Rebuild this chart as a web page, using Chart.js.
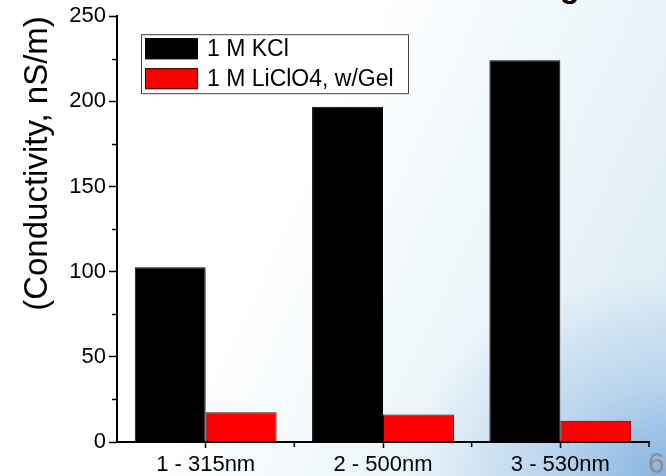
<!DOCTYPE html>
<html>
<head>
<meta charset="utf-8">
<script src="https://cdn.jsdelivr.net/npm/chart.js@4.4.0/dist/chart.umd.min.js"></script>
<style>
html,body{margin:0;padding:0;}
body{width:666px;height:476px;overflow:hidden;position:relative;
  background:
    radial-gradient(ellipse 260px 200px at 100% 100%, rgba(130,175,222,0.95) 0%, rgba(160,196,232,0.6) 45%, rgba(200,224,240,0) 100%),
    linear-gradient(115deg, #ffffff 0%, #ffffff 42%, #f1f8fb 60%, #e6f1f7 80%, #d6e8f2 100%);}
#wrap{position:absolute;left:0;top:0;width:666px;height:476px;}
#g{position:absolute;left:560px;top:-30px;font:bold 32px "Liberation Sans",Arial,sans-serif;line-height:32px;color:#000;}
#pg{position:absolute;left:648px;top:448px;font:30px "Liberation Sans",Arial,sans-serif;line-height:30px;color:#8e8e8e;}
</style>
</head>
<body>
<div id="g">g</div>
<div id="wrap"><canvas id="c" width="666" height="476"></canvas></div>
<div id="pg">6</div>
<script>
const categories = ['1 - 315nm', '2 - 500nm', '3 - 530nm'];
const seriesLabels = ['1 M KCl', '1 M LiClO4, w/Gel'];
const kclValues = [102.6, 196.9, 224.2];
const liclo4Values = [17.5, 16.2, 12.5];
const yMajorTicks = [0, 50, 100, 150, 200, 250];
const yMinorTicks = [25, 75, 125, 175, 225];
const xBoundaries = [0.5, 1.5, 2.5];

const FONT = '"Liberation Sans", Arial, sans-serif';

const decorPlugin = {
  id: 'decor',
  afterDraw(chart) {
    const ctx = chart.ctx, ca = chart.chartArea;
    const ys = chart.scales.y, xs = chart.scales.x;
    ctx.save();
    ctx.strokeStyle = '#000';
    ctx.lineWidth = 1.5;
    yMinorTicks.forEach(v => {
      const p = Math.round(ys.getPixelForValue(v)) + 0.5;
      ctx.beginPath(); ctx.moveTo(ca.left, p); ctx.lineTo(ca.left - 5, p); ctx.stroke();
    });
    xBoundaries.forEach(v => {
      const p = xs.getPixelForValue(v);
      ctx.beginPath(); ctx.moveTo(p, ca.bottom); ctx.lineTo(p, ca.bottom + 5); ctx.stroke();
    });
    // legend box
    const bx = ca.left + 24, by = ca.top + 18, bw = 267, bh = 59;
    ctx.lineWidth = 1;
    ctx.strokeStyle = '#444';
    ctx.fillStyle = '#fff';
    ctx.fillRect(bx, by, bw, bh);
    ctx.strokeRect(bx + 0.5, by + 0.5, bw, bh);
    ctx.font = '23px ' + FONT;
    ctx.textBaseline = 'middle';
    ctx.textAlign = 'left';
    chart.data.datasets.forEach((ds, i) => {
      const sy = by + 4 + i * 30;
      ctx.fillStyle = ds.backgroundColor;
      ctx.fillRect(bx + 4, sy, 53, 21);
      ctx.strokeStyle = ds.borderColor;
      ctx.strokeRect(bx + 4.5, sy + 0.5, 52, 20);
      ctx.fillStyle = '#000';
      ctx.fillText(ds.label, bx + 66, sy + 11);
    });
    ctx.restore();
  }
};

new Chart(document.getElementById('c'), {
  type: 'bar',
  data: {
    labels: categories,
    datasets: [
      { label: seriesLabels[0], data: kclValues, backgroundColor: '#000000', borderColor: '#000000', borderWidth: 1 },
      { label: seriesLabels[1], data: liclo4Values, backgroundColor: '#ff0000', borderColor: '#300000', borderWidth: 1 }
    ]
  },
  options: {
    responsive: false,
    animation: false,
    devicePixelRatio: 1,
    layout: { padding: { top: 15, right: 17, left: 0, bottom: 0 } },
    datasets: { bar: { barPercentage: 1.0, categoryPercentage: 0.8 } },
    plugins: { legend: { display: false }, tooltip: { enabled: false } },
    scales: {
      x: {
        type: 'category',
        offset: true,
        grid: { display: true, drawOnChartArea: false, offset: false, tickLength: 6, tickColor: '#000', tickWidth: 1.5 },
        border: { color: '#000', width: 2 },
        ticks: { color: '#000', font: { size: 22, family: FONT }, padding: 4, maxRotation: 0, autoSkip: false },
        afterFit: s => { s.height = 34; }
      },
      y: {
        min: 0, max: 250,
        afterBuildTicks: s => { s.ticks = yMajorTicks.map(v => ({ value: v })); },
        grid: { display: true, drawOnChartArea: false, tickLength: 8, tickColor: '#000', tickWidth: 1.5 },
        border: { color: '#000', width: 2 },
        ticks: { color: '#000', font: { size: 22, family: FONT }, padding: 3 },
        title: { display: true, text: '(Conductivity, nS/m)', color: '#000', align: 'end',
                 font: { size: 33, family: FONT }, padding: { top: 18, bottom: 0 } },
        afterFit: s => { s.width = 117; }
      }
    }
  },
  plugins: [decorPlugin]
});
</script>
</body>
</html>
